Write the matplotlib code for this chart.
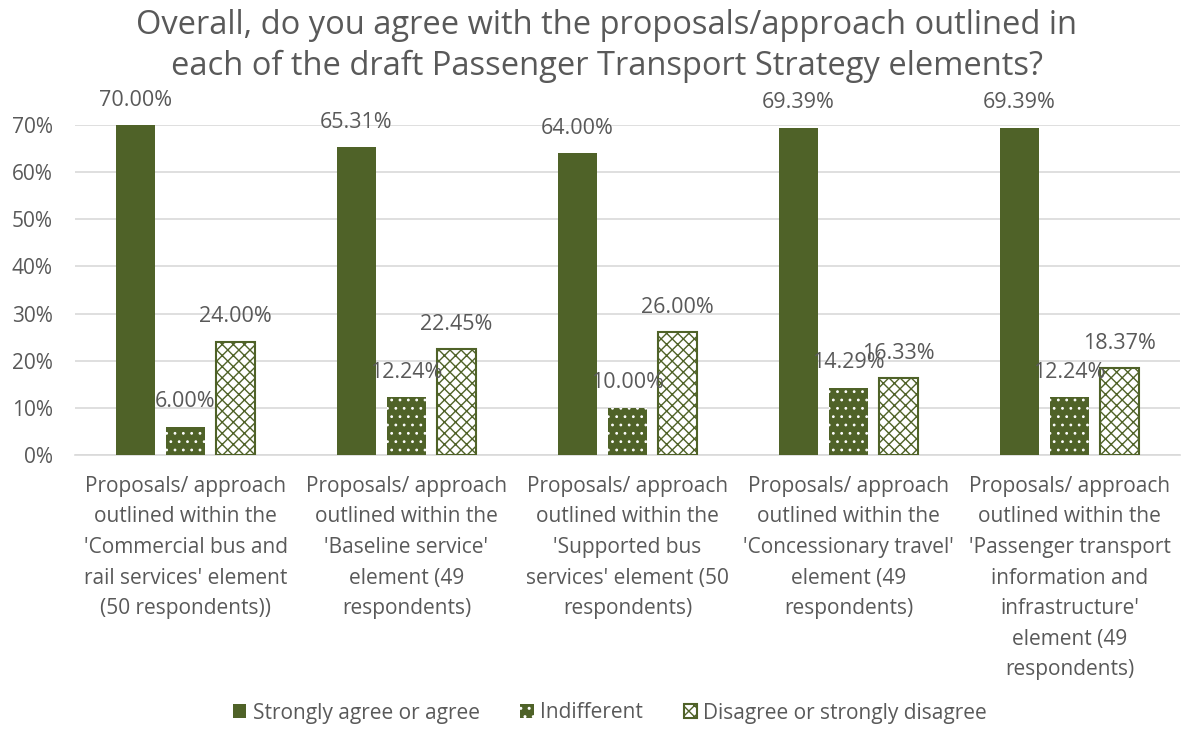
import matplotlib.pyplot as plt
import numpy as np

plt.rcParams['font.family'] = ['Open Sans', 'DejaVu Sans']

categories = [
    "Proposals/ approach\noutlined within the\n'Commercial bus and\nrail services' element\n(50 respondents))",
    "Proposals/ approach\noutlined within the\n'Baseline service'\nelement (49\nrespondents)",
    "Proposals/ approach\noutlined within the\n'Supported bus\nservices' element (50\nrespondents)",
    "Proposals/ approach\noutlined within the\n'Concessionary travel'\nelement (49\nrespondents)",
    "Proposals/ approach\noutlined within the\n'Passenger transport\ninformation and\ninfrastructure'\nelement (49\nrespondents)",
]
series_names = ["Strongly agree or agree", "Indifferent", "Disagree or strongly disagree"]
agree = [70.00, 65.31, 64.00, 69.39, 69.39]
indifferent = [6.00, 12.24, 10.00, 14.29, 12.24]
disagree = [24.00, 22.45, 26.00, 16.33, 18.37]

green = '#4F6228'
grey = '#595959'

fig = plt.figure(figsize=(11.92, 7.29), dpi=100)
ax = fig.add_axes([75/1192, 1 - 455/729, 1105/1192, 330/729])

x = np.arange(len(categories))
w = 0.18
off = 0.226

b1 = ax.bar(x - off, agree, w, color=green, label=series_names[0], zorder=3)
plt.rcParams['hatch.linewidth'] = 0.8
b2 = ax.bar(x, indifferent, w, facecolor=green, edgecolor='white', hatch='..',
            linewidth=0, label=series_names[1], zorder=3)
plt.rcParams['hatch.linewidth'] = 1.0
b3 = ax.bar(x + off, disagree, w, facecolor='white', edgecolor=green, hatch='xxx',
            linewidth=1.5, label=series_names[2], zorder=3)

for bars, vals in [(b1, agree), (b2, indifferent), (b3, disagree)]:
    for r, v in zip(bars, vals):
        ax.annotate(f"{v:.2f}%", (r.get_x() + r.get_width() / 2, v),
                    xytext=(0, 18), textcoords='offset points',
                    ha='center', va='center', fontsize=15.5, color=grey)

ax.set_ylim(0, 70)
ax.set_xlim(-0.5, len(categories) - 0.5)
ax.set_yticks(np.arange(0, 71, 10))
ax.set_yticklabels([f"{t}%" for t in range(0, 71, 10)])
ax.yaxis.grid(True, color='#D9D9D9', linewidth=1.2, zorder=0)
ax.set_axisbelow(True)
for s in ['top', 'right', 'left']:
    ax.spines[s].set_visible(False)
ax.spines['bottom'].set_color('#D9D9D9')
ax.spines['bottom'].set_linewidth(1.2)
ax.tick_params(axis='both', length=0, labelsize=15, colors=grey)
ax.tick_params(axis='y', pad=16)
ax.set_xticks(x)
ax.set_xticklabels(categories, fontsize=15, color=grey, linespacing=1.6)
ax.tick_params(axis='x', pad=15)

fig.text(607/1192, 1 - 46/729,
         "Overall, do you agree with the proposals/approach outlined in\neach of the draft Passenger Transport Strategy elements?",
         fontsize=23.5, color=grey, ha='center', va='center', linespacing=1.28)

fig.legend(handles=[b1, b2, b3], loc='center', bbox_to_anchor=(610/1192, 1 - 713/729),
           ncol=3, frameon=False, fontsize=15, labelcolor=grey,
           handlelength=0.65, handleheight=0.65, handletextpad=0.3, columnspacing=1.95)

fig.savefig('out.png', dpi=100)
